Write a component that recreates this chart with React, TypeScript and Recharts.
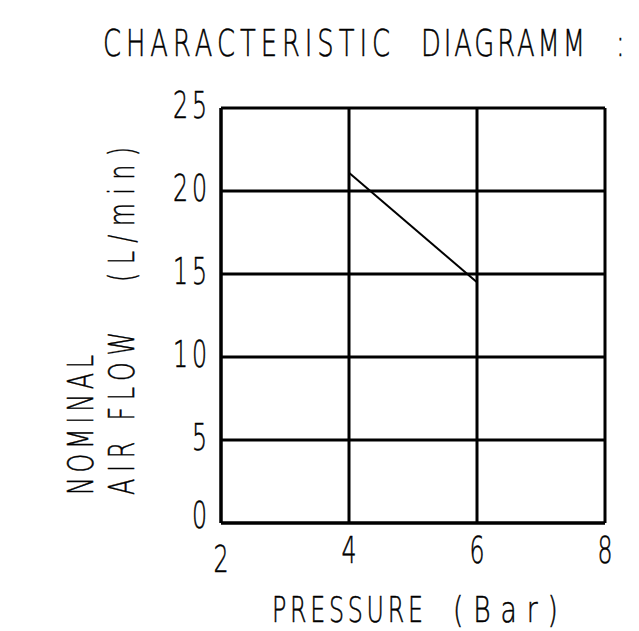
import React from "react";
import { LineChart, Line, XAxis, YAxis, CartesianGrid, Label } from "recharts";

const pressure = [4, 6];
const airFlow = [21.1, 14.5];
const xTicks = [2, 4, 6, 8];
const yTicks = [0, 5, 10, 15, 20, 25];

const data = pressure.map((p, i) => ({ p, f: airFlow[i] }));

const FONT = "'DejaVu Sans', sans-serif";

type TProps = {
  x: number;
  y: number;
  size: number;
  len?: number;
  anchor?: "start" | "middle" | "end";
  rot?: number;
  sx?: number;
  children: React.ReactNode;
};

const T = ({ x, y, size, len, anchor = "start", rot = 0, sx = 0.68, children }: TProps) => (
  <text
    transform={`translate(${x},${y}) rotate(${rot}) scale(${sx},1)`}
    fontSize={size}
    textAnchor={anchor}
    textLength={len ? len / sx : undefined}
    lengthAdjust="spacing"
    fontFamily={FONT}
    fontWeight={200}
    fill="#000"
    stroke="#000"
    strokeWidth={0.5}
  >
    {children}
  </text>
);

const XTick = (props: any) => {
  const { x, y, payload } = props;
  const dy = payload.value === 2 ? 9 : 0;
  return (
    <T x={x} y={y + 32 + dy} size={37} anchor="middle" sx={0.64}>
      {String(payload.value)}
    </T>
  );
};

const YTick = (props: any) => {
  const { x, y, payload } = props;
  const s = String(payload.value);
  const dy = payload.value === 0 ? 5 : 10;
  return (
    <T x={x - 6} y={y + dy} size={37} anchor="end" sx={0.64} len={s.length > 1 ? 34 : undefined}>
      {s}
    </T>
  );
};

const YLabel = () => (
  <g>
    <T x={93} y={495} size={35} rot={-90} len={140}>NOMINAL</T>
    <T x={134} y={495} size={35} rot={-90} len={163}>AIR FLOW</T>
    <T x={134} y={282} size={35} rot={-90} len={135}>(L/min)</T>
  </g>
);

const XLabel = () => (
  <g>
    <T x={272} y={622} size={35} len={151}>PRESSURE</T>
    <T x={453} y={622} size={35} len={105} sx={0.76}>(Bar)</T>
  </g>
);

export default function App() {
  return (
    <div style={{ position: "absolute", left: 0, top: 0, width: 639, height: 631, background: "#fff" }}>
      <svg width={639} height={80} style={{ position: "absolute", left: 0, top: 0 }}>
        <T x={103} y={56} size={38} len={287}>CHARACTERISTIC</T>
        <T x={421} y={56} size={38} len={164}>DIAGRAMM</T>
        <T x={616} y={56} size={38}>:</T>
      </svg>
      <div style={{ position: "absolute", left: 0, top: 0 }}>
        <LineChart
          width={639}
          height={631}
          data={data}
          margin={{ top: 108, right: 34, left: 161, bottom: 58 }}
        >
          <CartesianGrid stroke="#000" strokeWidth={3} horizontalValues={yTicks} verticalValues={xTicks} />
          <XAxis
            type="number"
            dataKey="p"
            domain={[2, 8]}
            ticks={xTicks}
            height={50}
            tickLine={false}
            axisLine={{ stroke: "#000", strokeWidth: 3 }}
            tick={<XTick />}
            interval={0}
          >
            <Label content={<XLabel />} />
          </XAxis>
          <YAxis
            type="number"
            domain={[0, 25]}
            ticks={yTicks}
            width={60}
            tickLine={false}
            axisLine={{ stroke: "#000", strokeWidth: 3 }}
            tick={<YTick />}
            interval={0}
          >
            <Label content={<YLabel />} />
          </YAxis>
          <Line dataKey="f" stroke="#000" strokeWidth={2} dot={false} isAnimationActive={false} />
        </LineChart>
      </div>
    </div>
  );
}
